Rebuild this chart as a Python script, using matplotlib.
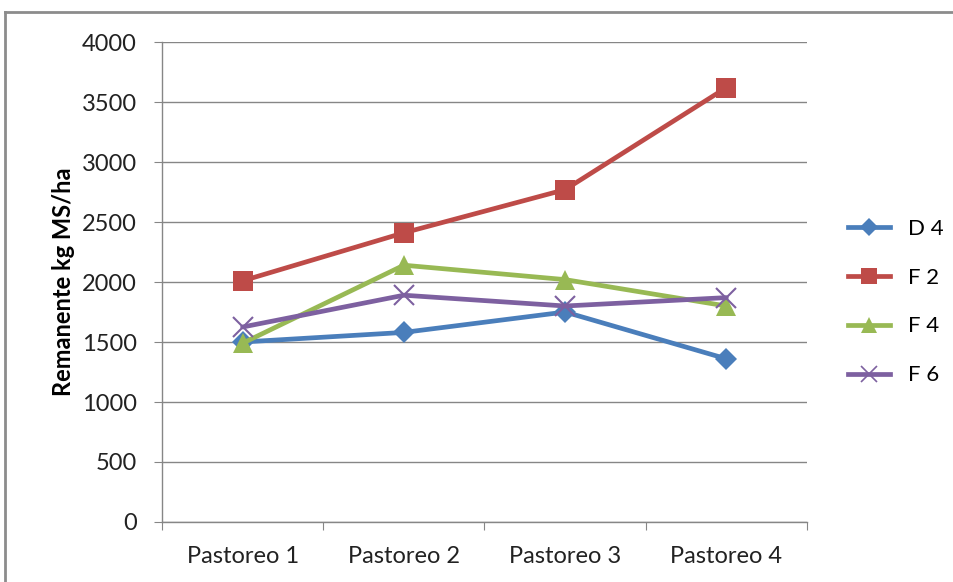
import matplotlib
matplotlib.use("Agg")
import matplotlib.pyplot as plt
from matplotlib.lines import Line2D
import numpy as np

plt.rcParams['font.family'] = ['Lato', 'DejaVu Sans']

categories = ["Pastoreo 1", "Pastoreo 2", "Pastoreo 3", "Pastoreo 4"]
series_names = ["D 4", "F 2", "F 4", "F 6"]
d4 = [1500, 1580, 1750, 1360]
f2 = [2010, 2410, 2770, 3620]
f4 = [1490, 2140, 2020, 1800]
f6 = [1625, 1890, 1800, 1870]
y_ticks = [0, 500, 1000, 1500, 2000, 2500, 3000, 3500, 4000]

colors = ["#4A7EBB", "#BE4B48", "#98B954", "#7D60A0"]
markers = ["D", "s", "^", "x"]
msizes = [11, 14, 14, 14]

fig = plt.figure(figsize=(9.54, 5.82), dpi=100)
ax = fig.add_axes([0.1698, 0.1031, 0.6761, 0.8247])

x = np.arange(len(categories))
for vals, name, c, m, ms in zip([d4, f2, f4, f6], series_names, colors, markers, msizes):
    mew = 1.5 if m == "x" else 0
    ax.plot(x, vals, color=c, lw=3.4, marker=m, markersize=ms, label=name,
            markerfacecolor=c, markeredgecolor=c, markeredgewidth=mew,
            solid_joinstyle="round", solid_capstyle="round")

ax.set_xlim(-0.5, len(categories) - 0.5)
ax.set_ylim(0, 4000)
ax.set_yticks(y_ticks)
ax.set_yticklabels([str(v) for v in y_ticks])
ax.yaxis.grid(True, color="#868686", lw=1)
ax.set_axisbelow(True)

ax.set_xticks(np.arange(-0.5, len(categories), 1.0))
ax.set_xticklabels([])
ax.set_xticks(x, minor=True)
ax.set_xticklabels(categories, minor=True)
ax.tick_params(axis="x", which="major", length=6, color="#868686", direction="out")
ax.tick_params(axis="x", which="minor", length=0, pad=17, labelsize=17, labelcolor="#222222")
ax.tick_params(axis="y", length=6, color="#868686", labelsize=17, pad=12, labelcolor="#222222")

for s in ["top", "right"]:
    ax.spines[s].set_visible(False)
for s in ["left", "bottom"]:
    ax.spines[s].set_color("#868686")
    ax.spines[s].set_linewidth(1)

ax.set_ylabel("Remanente kg MS/ha", fontsize=17, fontweight="bold", labelpad=5)

handles = [Line2D([0], [0], color=c, lw=3.4, marker=m, markersize=ms * 0.85,
                  markerfacecolor=c, markeredgecolor=c,
                  markeredgewidth=(1.2 if m == "x" else 0))
           for c, m, ms in zip(colors, markers, msizes)]
fig.legend(handles, series_names, loc="center left", bbox_to_anchor=(848 / 954, 1 - 302 / 582),
           frameon=False, fontsize=16, handlelength=1.9, labelspacing=1.3,
           handletextpad=0.8, borderpad=0, borderaxespad=0)

# outer chart frame
fig.add_artist(Line2D([5 / 954, 5 / 954], [0, 1 - 12 / 582], transform=fig.transFigure,
                      color="#8c8c8c", lw=2))
fig.add_artist(Line2D([5 / 954, 1], [1 - 12 / 582, 1 - 12 / 582], transform=fig.transFigure,
                      color="#8c8c8c", lw=2))

fig.savefig("out.png", dpi=100)
